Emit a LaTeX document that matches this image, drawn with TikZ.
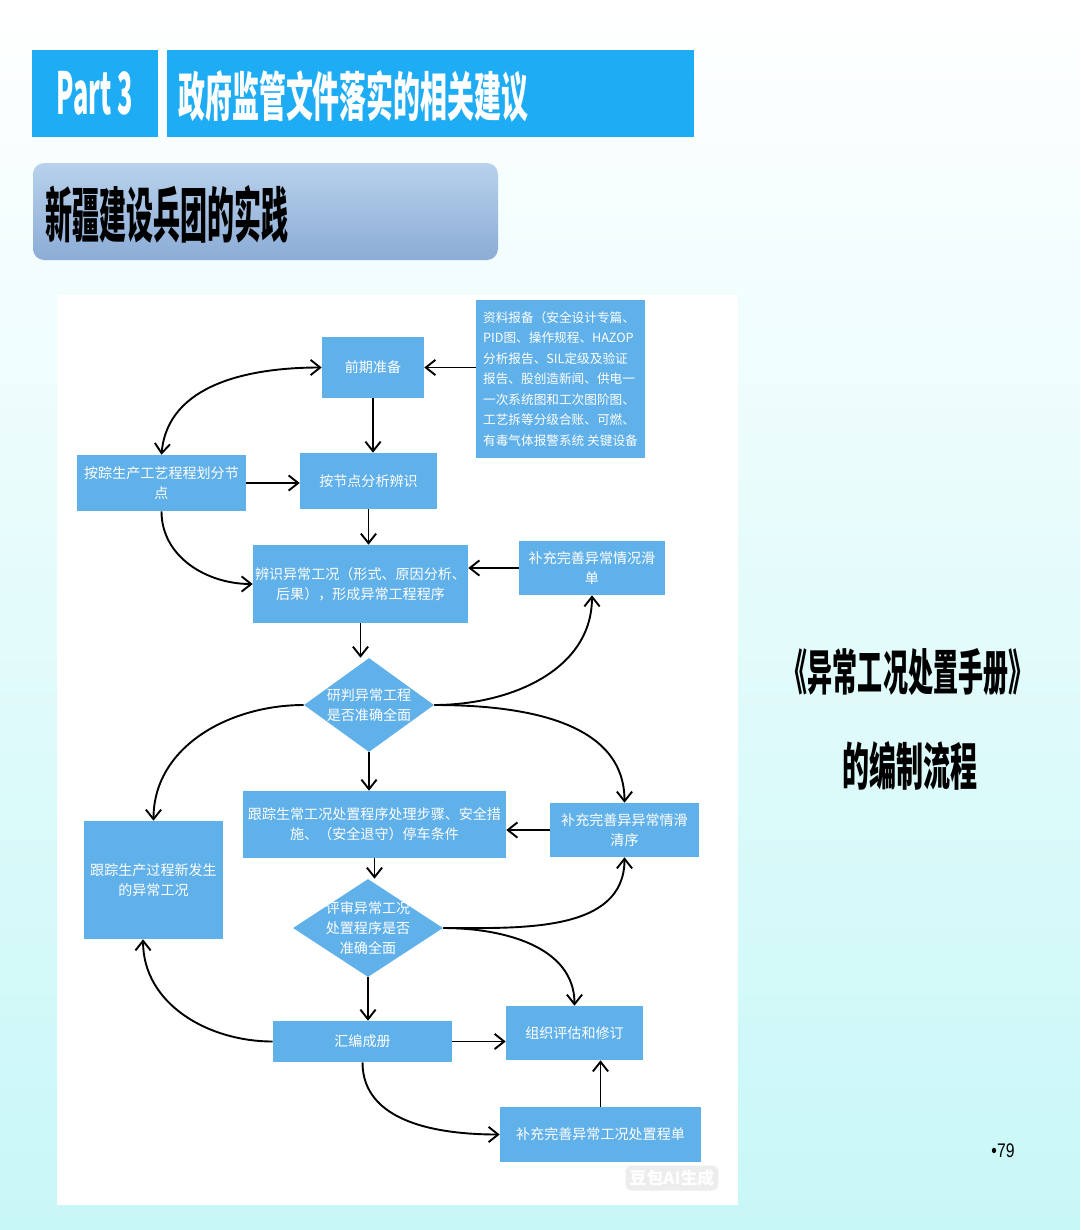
\documentclass[tikz,border=0pt]{standalone}
\usepackage{fontspec}
\newfontfamily\cjk{Noto Sans CJK SC}
\newfontfamily\lat{Liberation Sans}
\usetikzlibrary{shapes.geometric, arrows.meta, calc}
\definecolor{boxblue}{RGB}{96,176,234}
\definecolor{headblue}{RGB}{30,172,245}
\definecolor{subtop}{RGB}{184,210,236}
\definecolor{subbot}{RGB}{140,172,214}
\definecolor{bgmid}{RGB}{238,246,248}
\definecolor{bgbot}{RGB}{200,247,247}

\begin{document}
\begin{tikzpicture}[x=0.025cm, y=-0.025cm,
  size/.style 2 args={minimum width=#1*0.025cm, minimum height=#2*0.025cm},
  flow/.style={fill=boxblue, text=white, inner sep=0pt, align=center,
    font=\cjk\fontsize{10}{14}\selectfont},
  judge/.style={diamond, fill=boxblue, inner sep=0pt},
  judgetext/.style={text=white, align=center, font=\cjk\fontsize{10}{14}\selectfont},
  arr/.style={line width=1.35pt, -{Straight Barb[length=2.4mm,width=3.8mm]}},
  arrboth/.style={line width=1.35pt, {Straight Barb[length=2.4mm,width=3.8mm]}-{Straight Barb[length=2.4mm,width=3.8mm]}}]

\useasboundingbox (0,0) rectangle (1080,1230);
\shade[top color=white, middle color=bgmid, bottom color=bgbot] (0,0) rectangle (1080,1230);
\fill[white] (57,295) rectangle (738,1205);

% header
\node[fill=headblue, size={126}{87}, text=white, font=\cjk\bfseries] (part) at (95,93.5)
  {\resizebox{1.9cm}{1.08cm}{Part 3}};
\node[fill=headblue, size={527}{87}] (titlebar) at (430.5,93.5) {};
\node[anchor=west, inner sep=0pt, text=white, font=\cjk\bfseries] (title) at (178,96)
  {\resizebox{8.75cm}{1.15cm}{政府监管文件落实的相关建议}};
\shade[top color=subtop, bottom color=subbot, rounded corners=8pt] (33,163) rectangle (498,260);
\node[anchor=west, inner sep=0pt, font=\cjk\bfseries] (sub) at (45,214)
  {\resizebox{6.08cm}{1.3cm}{新疆建设兵团的实践}};

% flow boxes
\node[flow, size={102}{61}] (prep) at (373,367.5) {前期准备};
\node[flow, size={169}{158}, align=left, font=\cjk\fontsize{9}{14.6}\selectfont] (data) at (560.5,379)
  {资料报备（安全设计专篇、\\PID图、操作规程、HAZOP\\分析报告、SIL定级及验证\\报告、股创造新闻、供电一\\一次系统图和工次图阶图、\\工艺拆等分级合账、可燃、\\有毒气体报警系统 关键设备};
\node[flow, size={169}{56}] (nodes) at (161.5,483) {按踪生产工艺程程划分节\\点};
\node[flow, size={137}{56}] (analyze) at (368.5,481) {按节点分析辨识};
\node[flow, size={215}{78}] (ident) at (360.5,584) {辨识异常工况（形式、原因分析、\\后果），形成异常工程程序};
\node[flow, size={146}{54}] (supp1) at (592,568) {补充完善异常情况滑\\单};
\node[judge, size={130}{94}, label={[judgetext]center:研判异常工程\\是否准确全面}] (dia1) at (369,705) {};
\node[flow, size={263}{67}] (track) at (374.5,824.5) {跟踪生常工况处置程序处理步骤、安全措\\施、（安全退守）停车条件};
\node[flow, size={149}{54}] (supp2) at (624.5,830) {补充完善异异常情滑\\清序};
\node[flow, size={139}{118}] (newc) at (153.5,880) {跟踪生产过程新发生\\的异常工况};
\node[judge, size={150}{98}, label={[judgetext]center:评审异常工况\\处置程序是否\\准确全面}] (dia2) at (368,928) {};
\node[flow, size={179}{41}] (compile) at (362.5,1041.5) {汇编成册};
\node[flow, size={137}{54}] (org) at (574.5,1033) {组织评估和修订};
\node[flow, size={201}{55}] (supp3) at (600.5,1134.5) {补充完善异常工况处置程单};

% straight arrows
\draw[arr] (data.west |- prep.east) -- (prep.east);
\draw[arr] (prep.south) -- (prep.south |- analyze.north);
\draw[arr] (nodes.east) -- (nodes.east -| analyze.west);
\draw[arr] (analyze.south) -- (analyze.south |- ident.north);
\draw[arr] (supp1.west) -- (supp1.west -| ident.east);
\draw[arr] (ident.south) -- (ident.south |- dia1.north);
\draw[arr] (dia1.south) -- (dia1.south |- track.north);
\draw[arr] (supp2.west) -- (supp2.west -| track.east);
\draw[arr] (track.south) -- (track.south |- dia2.north);
\draw[arr] (dia2.south) -- (dia2.south |- compile.north);
\draw[arr] (compile.east) -- (compile.east -| org.west);
\draw[arr] (supp3.north) -- (supp3.north |- org.south);

% curved arrows
\draw[arrboth] (nodes.north) to[out=85, in=180] (prep.west);
\draw[arr] (nodes.south) to[out=-90, in=180] (ident.west);
\draw[arr] (dia1.east) to[out=0, in=-90] (supp1.south);
\draw[arr] (dia1.east) to[out=0, in=90] (supp2.north);
\draw[arr] (dia1.west) to[out=180, in=90] (newc.north);
\draw[arr] (dia2.east) to[out=0, in=-90] (supp2.south);
\draw[arr] (dia2.east) to[out=0, in=90] (org.north);
\draw[arr] (compile.west) to[out=180, in=-90] (newc.-100);
\draw[arr] (compile.south) to[out=-90, in=180] (supp3.west);

% right side
\node[inner sep=0pt, font=\cjk\bfseries] (book) at (908,672)
  {\resizebox{6.25cm}{1.05cm}{《异常工况处置手册》}};
\node[inner sep=0pt, font=\cjk\bfseries] (proc) at (910,766)
  {\resizebox{3.38cm}{1.1cm}{的编制流程}};
\node[inner sep=0pt, font=\lat\fontsize{14}{14}\selectfont] (page) at (1003,1151)
  {\scalebox{0.8}[1]{•79}};
\node[fill=black!7, text=white, rounded corners=4pt, inner sep=3pt,
  font=\cjk\bfseries\fontsize{12}{12}\selectfont] (mark) at (672,1178) {豆包AI生成};
\end{tikzpicture}
\end{document}
